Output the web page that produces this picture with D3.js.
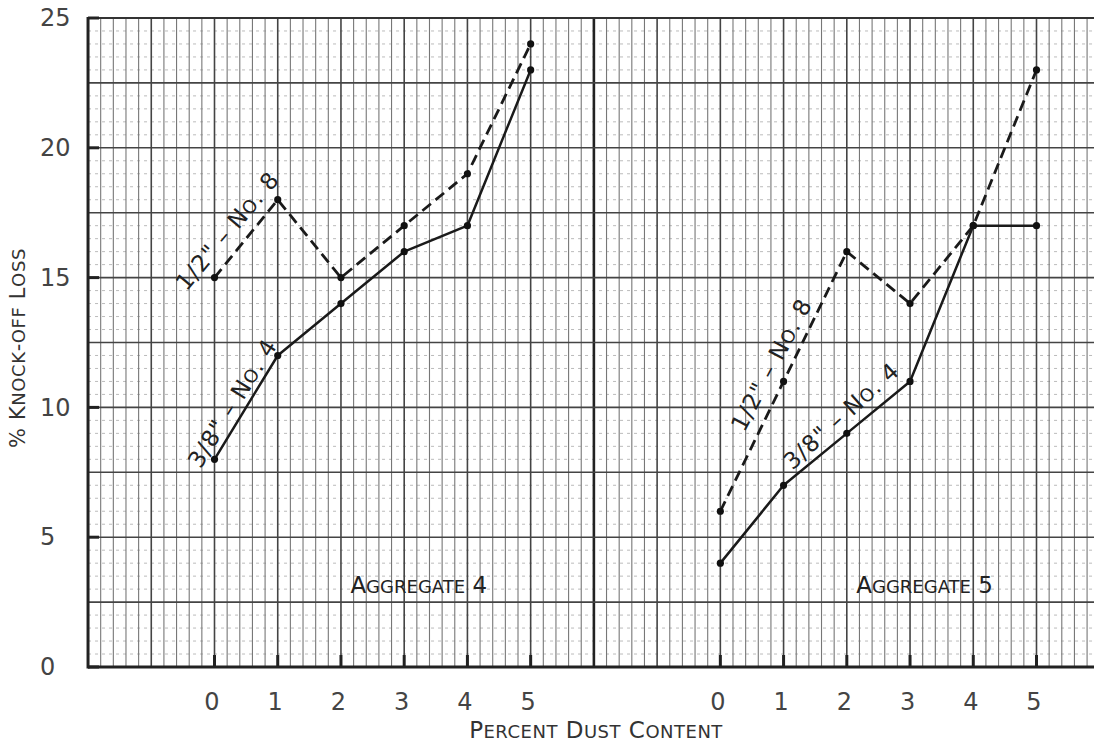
<!DOCTYPE html>
<html>
<head>
<meta charset="utf-8">
<script src="https://cdn.jsdelivr.net/npm/d3@7/dist/d3.min.js"></script>
<style>
  body { margin: 0; background: #fff; }
  svg { display: block; }
  text { font-family: "DejaVu Sans", sans-serif; fill: #333; }
</style>
</head>
<body>
<svg id="chart" width="1094" height="745"></svg>
<script>
// percent dust content (x) and % knock-off loss (y)
var dust = [0, 1, 2, 3, 4, 5];
var agg4Half = [15, 18, 15, 17, 19, 24];        // 1/2" - No. 8
var agg4ThreeEighths = [8, 12, 14, 16, 17, 23]; // 3/8" - No. 4
var agg5Half = [6, 11, 16, 14, 17, 23];
var agg5ThreeEighths = [4, 7, 9, 11, 17, 17];
var yTicks = [0, 5, 10, 15, 20, 25];
var aggNames = ["Aggregate 4", "Aggregate 5"];
var aggOffset = [0, 8]; // grid units where each aggregate's 0 sits

var svg = d3.select("#chart");
var W = 1094;

var x = d3.scaleLinear().domain([0, 13]).range([214.5, 1036.5]);
var y = d3.scaleLinear().domain([0, 25]).range([667, 18]);
var xLeft = -2, xRight = x.invert(W);

// writes text as small caps: capitals big, lower case as smaller capitals
function smallCaps(sel, str, big, small) {
  var runs = [];
  for (var i = 0; i < str.length; i++) {
    var c = str[i];
    var low = c !== c.toUpperCase();
    var last = runs[runs.length - 1];
    if (last && last.low === low) last.s += c;
    else runs.push({ low: low, s: c });
  }
  runs.forEach(function(r) {
    sel.append("tspan")
      .style("font-size", (r.low ? small : big) + "px")
      .text(r.low ? r.s.toUpperCase() : r.s);
  });
  return sel;
}

// ---- graph paper ----
var grid = svg.append("g");

// faint horizontal rulings every 0.5
grid.selectAll(".hfaint")
  .data(d3.range(0.5, 25, 0.5).filter(d => d % 2.5 !== 0))
  .enter().append("line")
    .attr("x1", x(xLeft)).attr("x2", W)
    .attr("y1", d => y(d)).attr("y2", d => y(d))
    .attr("stroke", "#bbb")
    .attr("stroke-width", 1)
    .attr("stroke-dasharray", "3,4");

// minor verticals every 0.2
grid.selectAll(".vminor")
  .data(d3.range(xLeft + 0.2, xRight, 0.2).filter(d => Math.abs(d - Math.round(d)) > 0.01))
  .enter().append("line")
    .attr("x1", d => x(d)).attr("x2", d => x(d))
    .attr("y1", y(25)).attr("y2", y(0))
    .attr("stroke", "#777")
    .attr("stroke-width", 1.1);

// major verticals every unit
grid.selectAll(".vmajor")
  .data(d3.range(xLeft + 1, xRight, 1))
  .enter().append("line")
    .attr("x1", d => x(d)).attr("x2", d => x(d))
    .attr("y1", y(25)).attr("y2", y(0))
    .attr("stroke", d => d === 6 ? "#222" : "#444")
    .attr("stroke-width", d => d === 6 ? 2.6 : 1.6);

// solid horizontals every 2.5
grid.selectAll(".hmajor")
  .data(d3.range(2.5, 25, 2.5))
  .enter().append("line")
    .attr("x1", x(xLeft)).attr("x2", W)
    .attr("y1", d => y(d)).attr("y2", d => y(d))
    .attr("stroke", "#444")
    .attr("stroke-width", 1.6);

// frame
grid.append("line")
  .attr("x1", x(xLeft)).attr("x2", W)
  .attr("y1", y(25)).attr("y2", y(25))
  .attr("stroke", "#333").attr("stroke-width", 2);
grid.append("line")
  .attr("x1", x(xLeft)).attr("x2", W)
  .attr("y1", y(0)).attr("y2", y(0))
  .attr("stroke", "#222").attr("stroke-width", 3);
grid.append("line")
  .attr("x1", x(xLeft)).attr("x2", x(xLeft))
  .attr("y1", y(25) - 1).attr("y2", y(0) + 1.5)
  .attr("stroke", "#222").attr("stroke-width", 3);

// ---- axes ----
var yAxis = svg.append("g")
  .attr("transform", "translate(" + x(xLeft) + ",0)")
  .call(d3.axisLeft(y).tickValues(yTicks).tickSize(0).tickPadding(0));
yAxis.select(".domain").remove();
yAxis.selectAll("text")
  .attr("x", -48)
  .style("text-anchor", "start")
  .style("font-family", "DejaVu Sans")
  .style("font-size", "24px")
  .style("fill", "#444");

// left tick marks
svg.selectAll(".ytick")
  .data(yTicks)
  .enter().append("line")
    .attr("x1", x(xLeft)).attr("x2", x(xLeft) + 11)
    .attr("y1", d => y(d)).attr("y2", d => y(d))
    .attr("stroke", "#222").attr("stroke-width", 3);

aggOffset.forEach(function(off) {
  var ax = svg.append("g")
    .attr("transform", "translate(-3," + y(0) + ")")
    .call(d3.axisBottom(x)
      .tickValues(dust.map(d => d + off))
      .tickFormat(d => d - off)
      .tickSize(0)
      .tickPadding(26));
  ax.select(".domain").remove();
  ax.selectAll("text")
    .style("font-family", "DejaVu Sans")
    .style("font-size", "24px")
    .style("fill", "#444");

  svg.selectAll(".xtick" + off)
    .data(dust)
    .enter().append("line")
      .attr("x1", d => x(d + off)).attr("x2", d => x(d + off))
      .attr("y1", y(0)).attr("y2", y(0) - 12)
      .attr("stroke", "#222").attr("stroke-width", 3);
});

// ---- data lines ----
var series = [
  { off: 0, vals: agg4Half, dash: true },
  { off: 0, vals: agg4ThreeEighths, dash: false },
  { off: 8, vals: agg5Half, dash: true },
  { off: 8, vals: agg5ThreeEighths, dash: false }
];

var line = d3.line()
  .x(d => x(d.x))
  .y(d => y(d.v));

series.forEach(function(s) {
  var pts = dust.map((d, i) => ({ x: d + s.off, v: s.vals[i] }));
  svg.append("path")
    .datum(pts)
    .attr("d", line)
    .attr("fill", "none")
    .attr("stroke", "#1a1a1a")
    .attr("stroke-width", s.dash ? 2.8 : 2.5)
    .attr("stroke-dasharray", s.dash ? "11,6" : null)
    .attr("stroke-linejoin", "round");
  svg.selectAll(null)
    .data(pts)
    .enter().append("circle")
      .attr("cx", d => x(d.x))
      .attr("cy", d => y(d.v))
      .attr("r", 3.6)
      .attr("fill", "#111");
});

// ---- labels ----
var big = 23, small = 18;

var lineLabels = [
  { t: '1/2" \u2013 No. 8', px: 0.3, v: 16.6, a: -50 },
  { t: '3/8" \u2013 No. 4', px: 0.39, v: 10.0, a: -58 },
  { t: '1/2" \u2013 No. 8', px: 8.92, v: 11.5, a: -62 },
  { t: '3/8" \u2013 No. 4', px: 10.0, v: 9.45, a: -42 }
];
lineLabels.forEach(function(l) {
  var t = svg.append("text")
    .attr("transform", "translate(" + x(l.px) + "," + y(l.v) + ") rotate(" + l.a + ")")
    .style("text-anchor", "middle")
    .style("letter-spacing", "1px")
    .style("fill", "#222");
  smallCaps(t, l.t, big, small);
});

aggNames.forEach(function(n, i) {
  var t = svg.append("text")
    .attr("x", x(aggOffset[i] + 3.23))
    .attr("y", 593)
    .style("text-anchor", "middle")
    .style("fill", "#222");
  smallCaps(t, n, big, small);
});

var xt = svg.append("text")
  .attr("x", 596)
  .attr("y", 738)
  .style("text-anchor", "middle")
  .style("letter-spacing", "0.5px");
smallCaps(xt, "Percent Dust Content", big, small);

var yt = svg.append("text")
  .attr("transform", "translate(25,348) rotate(-90)")
  .style("text-anchor", "middle")
  .style("letter-spacing", "0.6px");
smallCaps(yt, "% Knock-off Loss", big - 2, small);
</script>
</body>
</html>
